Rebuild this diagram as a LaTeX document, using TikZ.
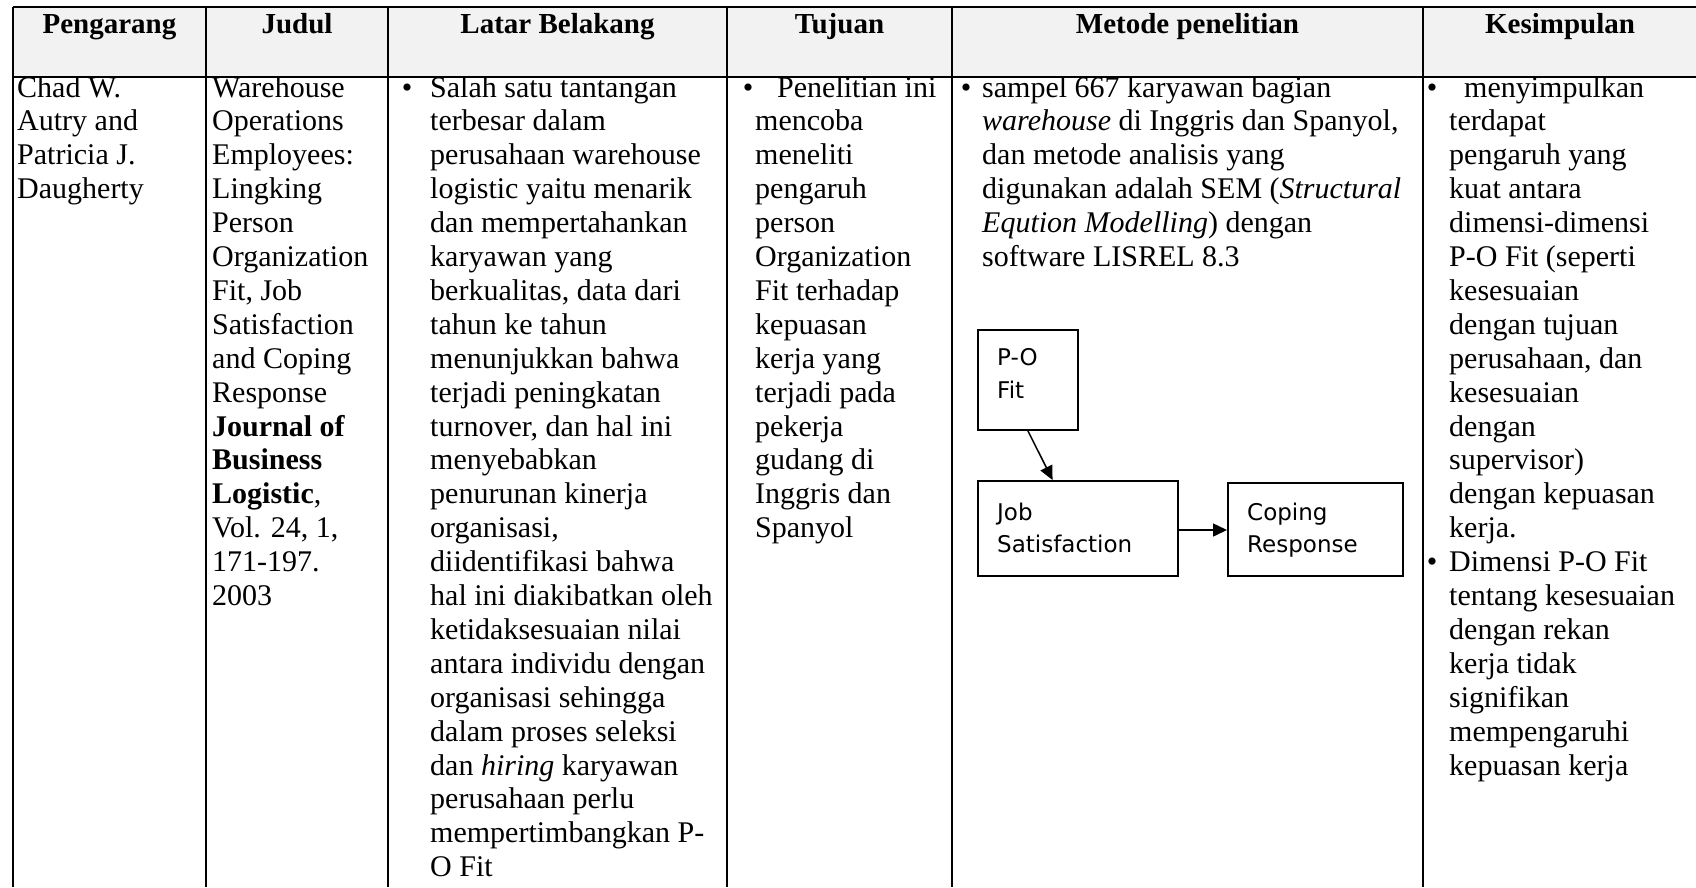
\documentclass[tikz,border=0pt]{standalone}
\usepackage{fontspec}
\setmainfont{Liberation Serif}
\newfontfamily\boxfont{DejaVu Sans}
\usetikzlibrary{arrows.meta,calc}

\begin{document}
\begin{tikzpicture}[x=1pt,y=-1pt,
  rule/.style={line width=2pt, black},
  head/.style={anchor=base, inner sep=0pt, font=\fontsize{29}{34}\selectfont\bfseries},
  cell/.style={anchor=base west, inner sep=0pt, font=\fontsize{30}{33.9}\selectfont},
  dot/.style={anchor=base, inner sep=0pt, font=\fontsize{30}{33.9}\selectfont},
  varbox/.style={draw, line width=1.5pt, rectangle, inner sep=0pt, anchor=north west},
  boxtext/.style={anchor=base west, inner sep=0pt, font=\boxfont\fontsize{23}{32.5}\selectfont},
  link/.style={line width=1.5pt, -{Triangle[length=14pt,width=13pt]}}
]
\useasboundingbox (0,0) rectangle (1696,887);

% header shading
\fill[black!5] (13,7) rectangle (1696,77);

% table rules
\draw[rule] (13,7) -- (1696,7);
\draw[rule] (13,77) -- (1696,77);
\foreach \xc in {13,206,388,727,952,1423}
  \draw[rule] (\xc,7) -- (\xc,887);

% header labels
\node[head] (hdA) at (109.5,33) {Pengarang};
\node[head] (hdB) at (297,33) {Judul};
\node[head] (hdC) at (557.5,33) {Latar Belakang};
\node[head] (hdD) at (839.5,33) {Tujuan};
\node[head] (hdE) at (1187.5,33) {Metode penelitian};
\node[head] (hdF) at (1560,33) {Kesimpulan};

% column 1
\node[cell] (cA) at (17,97) {\begin{tabular}[t]{@{}l@{}}
Chad W.\\ Autry and\\ Patricia J.\\ Daugherty
\end{tabular}};

% column 2
\node[cell] (cB) at (212,97) {\begin{tabular}[t]{@{}l@{}}
Warehouse\\ Operations\\ Employees:\\ Lingking\\ Person\\ Organization\\
Fit, Job\\ Satisfaction\\ and Coping\\ Response\\ \textbf{Journal of}\\
\textbf{Business}\\ \textbf{Logistic}, \\ Vol. 24, 1,\\ 171-197.\\ 2003
\end{tabular}};

% column 3
\node[dot] (bC) at (407,97) {•};
\node[cell] (cC) at (430,97) {\begin{tabular}[t]{@{}l@{}}
Salah satu tantangan\\ terbesar dalam\\ perusahaan warehouse\\
logistic yaitu menarik\\ dan mempertahankan\\ karyawan yang\\
berkualitas, data dari\\ tahun ke tahun\\ menunjukkan bahwa\\
terjadi peningkatan\\ turnover, dan hal ini\\ menyebabkan\\
penurunan kinerja\\ organisasi,\\ diidentifikasi bahwa\\
hal ini diakibatkan oleh\\ ketidaksesuaian nilai\\ antara individu dengan\\
organisasi sehingga\\ dalam proses seleksi\\ dan \textit{hiring} karyawan\\
perusahaan perlu\\ mempertimbangkan P-\\ O Fit
\end{tabular}};

% column 4
\node[dot] (bD) at (748,97) {•};
\node[cell] (cD) at (755,97) {\begin{tabular}[t]{@{}l@{}}
\hspace*{22pt}Penelitian ini\\ mencoba\\ meneliti\\ pengaruh\\ person\\
Organization\\ Fit terhadap\\ kepuasan\\ kerja yang\\ terjadi pada\\
pekerja\\ gudang di\\ Inggris dan\\ Spanyol
\end{tabular}};

% column 5
\node[dot] (bE) at (966,97) {•};
\node[cell] (cE) at (982,97) {\begin{tabular}[t]{@{}l@{}}
sampel 667 karyawan bagian\\ \textit{warehouse} di Inggris dan Spanyol,\\
dan metode analisis yang\\ digunakan adalah SEM (\textit{Structural}\\
\textit{Eqution Modelling}) dengan\\ software LISREL 8.3
\end{tabular}};

% path diagram in column 5
\node[varbox, minimum width=100pt, minimum height=100pt] (po) at (977,329) {};
\node[varbox, minimum width=200pt, minimum height=95pt] (job) at (977,480) {};
\node[varbox, minimum width=175pt, minimum height=93pt] (cope) at (1227,482) {};
\node[boxtext] (poT1) at (997,365) {P-O};
\node[boxtext] (poT2) at (997,398) {Fit};
\node[boxtext] (jobT1) at (997,520) {Job};
\node[boxtext] (jobT2) at (997,552) {Satisfaction};
\node[boxtext] (copeT1) at (1247,520) {Coping};
\node[boxtext] (copeT2) at (1247,552) {Response};
\draw[link] (po.south) -- ($(job.north west)!0.375!(job.north east)$);
\draw[link] (job.east |- 0,530) -- (cope.west |- 0,530);

% column 6
\node[dot] (bF1) at (1432,97) {•};
\node[dot] (bF2) at (1432,571.6) {•};
\node[cell] (cF) at (1449,97) {\begin{tabular}[t]{@{}l@{}}
\hspace*{15pt}menyimpulkan\\ terdapat\\ pengaruh yang\\ kuat antara\\
dimensi-dimensi\\ P-O Fit (seperti\\ kesesuaian\\ dengan tujuan\\
perusahaan, dan\\ kesesuaian\\ dengan\\ supervisor)\\ dengan kepuasan\\
kerja.\\ Dimensi P-O Fit\\ tentang kesesuaian\\ dengan rekan\\
kerja tidak\\ signifikan\\ mempengaruhi\\ kepuasan kerja
\end{tabular}};
\end{tikzpicture}
\end{document}
